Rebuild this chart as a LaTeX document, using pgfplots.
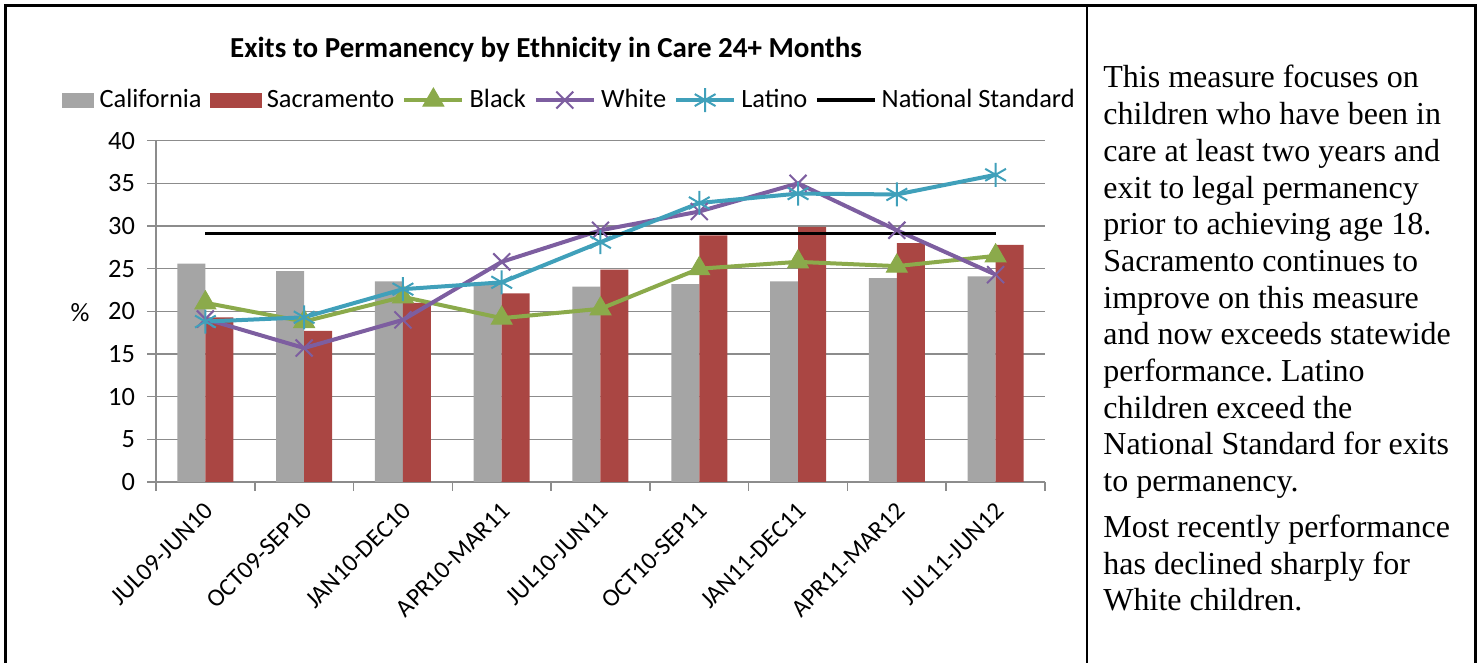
\documentclass[border=0pt]{standalone}
\usepackage{fontspec}
\setmainfont{Carlito}
\newfontfamily\tnr{Liberation Serif}
\usepackage{pgfplots}
\pgfplotsset{compat=1.18}
\definecolor{cgrey}{HTML}{A5A5A5}
\definecolor{cred}{HTML}{AA4643}
\definecolor{cgreen}{HTML}{8BAA4B}
\definecolor{cpurple}{HTML}{7D5EA0}
\definecolor{cteal}{HTML}{40A0BA}
\definecolor{gridc}{HTML}{8C8C8C}
\begin{document}
\frenchspacing
\begin{tikzpicture}
\useasboundingbox (0,0) rectangle (739.5pt,331.5pt);
\draw[line width=1.5pt] (2.5pt,0) -- (2.5pt,328.5pt) -- (737.5pt,328.5pt) -- (737.5pt,0);
\draw[line width=1.2pt] (543.5pt,0) -- (543.5pt,328.5pt);
\node[font=\fontsize{14.5}{17}\selectfont\bfseries] at (273pt,306.5pt) {Exits to Permanency by Ethnicity in Care 24+ Months};
\node[font=\fontsize{13.2}{15}\selectfont] at (40pt,175pt) {\%};
\node[anchor=north west, inner sep=0pt, align=left, font=\tnr\fontsize{16}{18.35}\selectfont] at (551.5pt,299pt)
{This measure focuses on\\children who have been in\\care at least two years and\\exit to legal permanency\\prior to achieving age 18.\\Sacramento continues to\\improve on this measure\\and now exceeds statewide\\performance. Latino\\children exceed the\\National Standard for exits\\to permanency.\\[4.6pt]Most recently performance\\has declined sharply for\\White children.};
\begin{axis}[
  at={(78pt,90.5pt)}, anchor=south west, scale only axis,
  width=444.5pt, height=170.65pt,
  xmin=-0.5, xmax=8.5, ymin=0, ymax=40,
  xtick={-0.5,0.5,...,8.5}, xticklabels={},
  extra x ticks={0,1,...,8},
  extra x tick labels={JUL09-JUN10,OCT09-SEP10,JAN10-DEC10,APR10-MAR11,JUL10-JUN11,OCT10-SEP11,JAN11-DEC11,APR11-MAR12,JUL11-JUN12},
  extra x tick style={major tick length=0pt, grid=none},
  xticklabel style={rotate=45, anchor=east, inner sep=0pt, xshift=-7.4pt, yshift=-10.25pt, font=\fontsize{12.5}{14}\selectfont},
  ytick={0,5,...,40},
  yticklabel style={font=\fontsize{13.2}{15}\selectfont, xshift=-2.5pt},
  /pgf/number format/assume math mode=true,
  axis x line*=bottom, axis y line*=left,
  axis line style={gridc, line width=0.8pt, -},
  ymajorgrids, major grid style={gridc, line width=0.8pt},
  tick align=outside, major tick length=4.5pt,
  tick style={gridc, line width=0.8pt},
  legend style={draw=none, fill=none, at={(0.467,1.119)}, anchor=center,
    legend columns=6, font=\fontsize{13.2}{15}\selectfont, inner sep=0pt,
    nodes={inner xsep=2.6pt, inner ysep=1pt},
    /tikz/every even column/.append style={column sep=1.4pt}},
  legend image code/.code={\draw[mark repeat=2,mark phase=2,#1] plot coordinates {(0pt,0pt) (14.5pt,0pt) (29pt,0pt)};},
]
\addplot[ybar, bar width=14pt, bar shift=-7pt, fill=cgrey, draw=none,
  legend image code/.code={\fill[cgrey] (0pt,-3.75pt) rectangle (16pt,3.75pt);}]
  coordinates {(0,25.6) (1,24.7) (2,23.5) (3,23.3) (4,22.9) (5,23.2) (6,23.5) (7,23.9) (8,24.1)};
\addlegendentry{California}
\addplot[ybar, bar width=14pt, bar shift=7pt, fill=cred, draw=none,
  legend image code/.code={\fill[cred] (0pt,-3.75pt) rectangle (26pt,3.75pt);}]
  coordinates {(0,19.3) (1,17.7) (2,21.0) (3,22.1) (4,24.9) (5,28.9) (6,29.9) (7,28.0) (8,27.8)};
\addlegendentry{Sacramento}
\addplot[cgreen, line width=2pt, mark=triangle*, mark size=6pt, mark options={solid, line width=0.5pt}]
  coordinates {(0,21.0) (1,18.8) (2,21.7) (3,19.2) (4,20.3) (5,25.0) (6,25.8) (7,25.3) (8,26.5)};
\addlegendentry{Black}
\addplot[cpurple, line width=2pt, mark=x, mark size=6pt, mark options={line width=1pt}]
  coordinates {(0,19.1) (1,15.7) (2,19.0) (3,25.8) (4,29.5) (5,31.7) (6,35.0) (7,29.5) (8,24.3)};
\addlegendentry{White}
\addplot[cteal, line width=2pt, mark=asterisk, mark size=6pt, mark options={line width=1pt}]
  coordinates {(0,18.8) (1,19.3) (2,22.6) (3,23.4) (4,28.1) (5,32.7) (6,33.8) (7,33.7) (8,36.0)};
\addlegendentry{Latino}
\addplot[black, line width=1.6pt, no marks]
  coordinates {(0,29.1) (1,29.1) (2,29.1) (3,29.1) (4,29.1) (5,29.1) (6,29.1) (7,29.1) (8,29.1)};
\addlegendentry{National Standard}
\end{axis}
\end{tikzpicture}
\end{document}
